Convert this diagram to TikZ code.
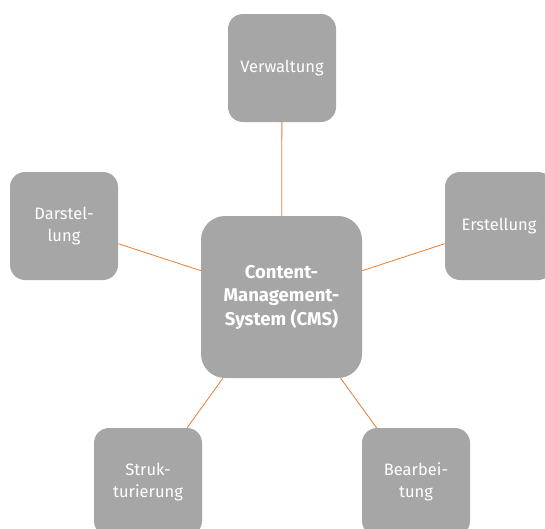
\documentclass[tikz,border=0pt]{standalone}
\usepackage{fontspec}
\setmainfont{Fira Sans}
\definecolor{boxgray}{RGB}{166,166,166}
\definecolor{linkorange}{RGB}{232,125,50}
\tikzset{
  sat/.style={fill=boxgray, draw=none, rounded corners=15pt, minimum width=108pt, minimum height=108pt,
    text=white, align=center, font=\fontsize{16.5}{22}\selectfont, inner sep=0pt},
  hub/.style={fill=boxgray, draw=none, rounded corners=24pt, minimum width=161pt, minimum height=162pt,
    text=white, align=center, font=\fontsize{18.5}{23.5}\selectfont\bfseries, inner sep=0pt},
  link/.style={draw=linkorange, line width=0.8pt}
}
\begin{document}
\begin{tikzpicture}[x=1pt,y=-1pt]
\useasboundingbox (0,0) rectangle (545,528);
\clip (0,0) rectangle (545,528);
\node[hub] (cms) at (281.5,297) {Content-\\Management-\\System (CMS)};
\node[sat] (verw) at (282,68) {Verwaltung};
\node[sat] (darst) at (64,226) {Darstel-\\lung};
\node[sat] (erst) at (499,226) {Erstellung};
\node[sat] (struk) at (148,482) {Struk-\\turierung};
\node[sat] (bearb) at (416,482) {Bearbei-\\tung};
\draw[link] (cms) -- (verw);
\draw[link] (cms) -- (darst);
\draw[link] (cms) -- (erst);
\draw[link] (cms) -- (struk);
\draw[link] (cms) -- (bearb);
\end{tikzpicture}
\end{document}
